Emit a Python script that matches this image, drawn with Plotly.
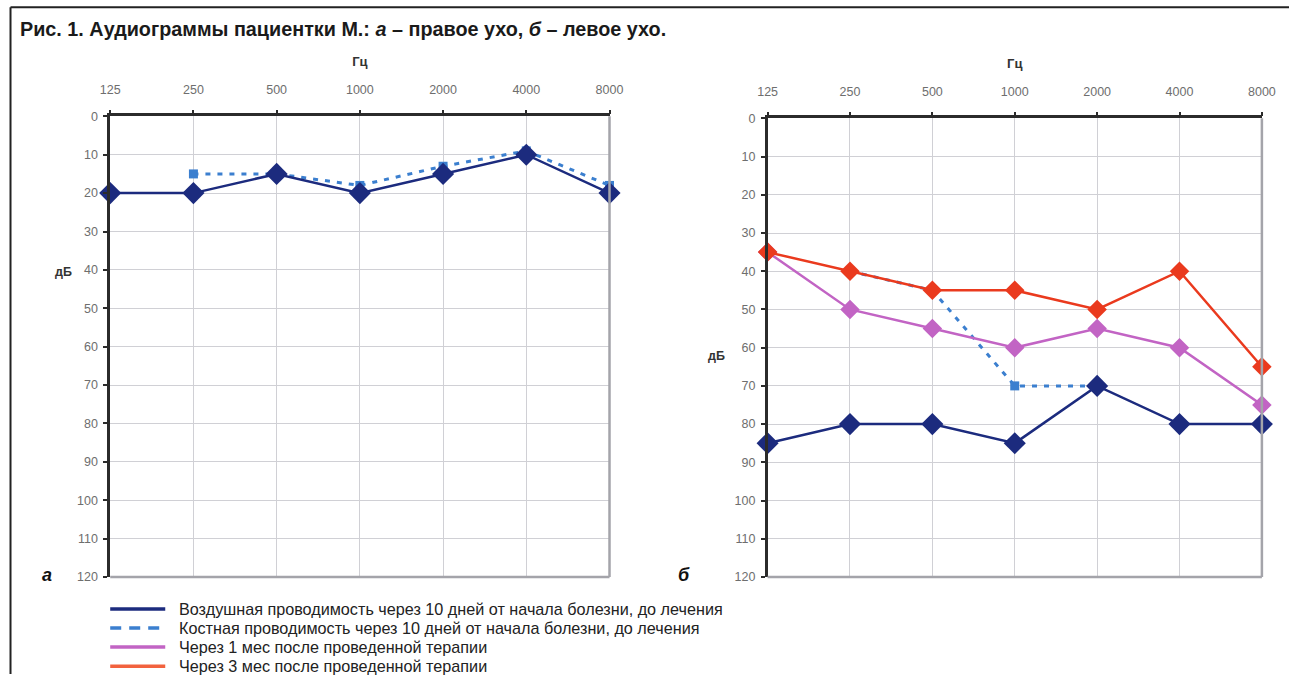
import plotly.graph_objects as go

# Frequencies (Hz) shown as categories on the audiogram
freqs = ["125", "250", "500", "1000", "2000", "4000", "8000"]
db_ticks = list(range(0, 121, 10))

# Right ear (а)
right_air = [20, 20, 15, 20, 15, 10, 20]
right_bone = [None, 15, 15, 18, 13, 9, 18]

# Left ear (б)
left_air = [85, 80, 80, 85, 70, 80, 80]
left_bone = [None, 40, 45, 70, 70, None, None]
left_1m = [35, 50, 55, 60, 55, 60, 75]
left_3m = [35, 40, 45, 45, 50, 40, 65]

legend_names = [
    "Воздушная проводимость через 10 дней от начала болезни, до лечения",
    "Костная проводимость через 10 дней от начала болезни, до лечения",
    "Через 1 мес после проведенной терапии",
    "Через 3 мес после проведенной терапии",
]

NAVY = "#1c2b7e"
BONE = "#3b7fcf"
PURPLE = "#c264c4"
RED = "#ea3a1e"
RED_LEG = "#f2623e"
FONT = "Liberation Sans, Arial, sans-serif"

W, H = 1303, 681
SX, SY, OFF = 0.981, 0.978, 8


def px(xp):
    """Page x (pixels) -> paper fraction."""
    return (xp / SX - OFF) / W


def py(yp):
    """Page y (pixels) -> paper fraction."""
    return 1 - (yp / SY - OFF) / H


fig = go.Figure()


def add_series(y, xa, ya, color, symbol, size, dash="solid", width=2.5):
    fig.add_trace(go.Scatter(
        x=freqs, y=y, xaxis=xa, yaxis=ya, mode="lines+markers",
        line=dict(color=color, width=width, dash=dash),
        marker=dict(symbol=symbol, size=size, color=color),
        connectgaps=False, cliponaxis=False, showlegend=False,
        hoverinfo="x+y",
    ))


# Panel а
add_series(right_bone, "x", "y", BONE, "square", 9, dash="5px,7px", width=3)
add_series(right_air, "x", "y", NAVY, "diamond", 17)

# Panel б
add_series(left_bone, "x2", "y2", BONE, "square", 9, dash="5px,7px", width=3)
add_series(left_air, "x2", "y2", NAVY, "diamond", 17)
add_series(left_1m, "x2", "y2", PURPLE, "diamond", 15)
add_series(left_3m, "x2", "y2", RED, "diamond", 15)

xcommon = dict(
    type="category", categoryorder="array", categoryarray=freqs,
    range=[0, 6], side="top", showgrid=True, gridcolor="#d0d0d5",
    gridwidth=1, showline=True, linecolor="#2b2b2b", linewidth=2.5,
    ticks="outside", ticklen=4, tickwidth=2, tickcolor="#2b2b2b",
    tickfont=dict(family=FONT, size=12.5, color="#6e6e6e"),
    ticklabelstandoff=11,
    zeroline=False, fixedrange=True,
    title=dict(text="<b>Гц</b>", font=dict(family=FONT, size=13, color="#333"),
               standoff=14),
)
ycommon = dict(
    range=[120, 0], tickvals=db_ticks, showgrid=True, gridcolor="#d0d0d5",
    gridwidth=1, showline=True, linecolor="#2b2b2b", linewidth=2.5,
    ticks="outside", ticklen=4, tickwidth=2, tickcolor="#2b2b2b",
    tickfont=dict(family=FONT, size=12.5, color="#6e6e6e"),
    ticklabelstandoff=3,
    zeroline=False, fixedrange=True,
)

fig.update_layout(
    width=W, height=H,
    margin=dict(l=0, r=0, t=0, b=0),
    paper_bgcolor="white", plot_bgcolor="white",
    font=dict(family=FONT, color="#222"),
    xaxis=dict(domain=[px(108), px(607)], anchor="y", **xcommon),
    yaxis=dict(domain=[py(577), py(117)], anchor="x", **ycommon),
    xaxis2=dict(domain=[px(765), px(1259)], anchor="y2", **xcommon),
    yaxis2=dict(domain=[py(577), py(119)], anchor="x2", **ycommon),
    showlegend=False,
)

shapes = []
# Right and bottom edges of each plot area in grey
for xa, ya in [("x", "y"), ("x2", "y2")]:
    shapes.append(dict(type="line", xref=f"{xa} domain", yref=f"{ya} domain",
                       x0=1, x1=1, y0=0, y1=1, line=dict(color="#a4a4aa", width=2.5)))
    shapes.append(dict(type="line", xref=f"{xa} domain", yref=f"{ya} domain",
                       x0=0, x1=1, y0=0, y1=0, line=dict(color="#a4a4aa", width=2.5)))

# Outer frame of the figure (left and top edges)
shapes.append(dict(type="line", xref="paper", yref="paper", x0=0.0004, x1=0.0004,
                   y0=0, y1=0.9996, line=dict(color="#222", width=2)))
shapes.append(dict(type="line", xref="paper", yref="paper", x0=0.0004, x1=1,
                   y0=0.9996, y1=0.9996, line=dict(color="#222", width=2)))

annotations = [
    dict(text="<b>Рис. 1. Аудиограммы пациентки М.: <i>а</i> – правое ухо, <i>б</i> – левое ухо.</b>",
         x=px(16), y=py(30), xref="paper", yref="paper", xanchor="left", yanchor="middle",
         showarrow=False, font=dict(family=FONT, size=19.8, color="#1a1a1a")),
    dict(text="<b>дБ</b>", x=px(51), y=py(272), xref="paper", yref="paper",
         showarrow=False, font=dict(family=FONT, size=12.5, color="#333")),
    dict(text="<b>дБ</b>", x=px(714), y=py(356), xref="paper", yref="paper",
         showarrow=False, font=dict(family=FONT, size=12.5, color="#333")),
    dict(text="<b><i>а</i></b>", x=px(38), y=py(587), xref="paper", yref="paper",
         showarrow=False, font=dict(family=FONT, size=18, color="#111")),
    dict(text="<b><i>б</i></b>", x=px(681), y=py(587), xref="paper", yref="paper",
         showarrow=False, font=dict(family=FONT, size=18, color="#111")),
]

# Legend: line samples and captions
legend_rows = [609, 628, 647, 666]
legend_colors = [NAVY, BONE, PURPLE, RED_LEG]
legend_dash = ["solid", "dash", "solid", "solid"]
for name, color, dash, yy in zip(legend_names, legend_colors, legend_dash, legend_rows):
    shapes.append(dict(type="line", xref="paper", yref="paper",
                       x0=px(108), x1=px(163), y0=py(yy), y1=py(yy),
                       line=dict(color=color, width=3.5,
                                 dash="11px,8px" if dash == "dash" else "solid")))
    annotations.append(dict(text=name, x=px(175), y=py(yy), xref="paper", yref="paper",
                            xanchor="left", yanchor="middle", showarrow=False,
                            font=dict(family=FONT, size=16.2, color="#222")))

fig.update_layout(shapes=shapes, annotations=annotations)

fig.write_html("out.html")
